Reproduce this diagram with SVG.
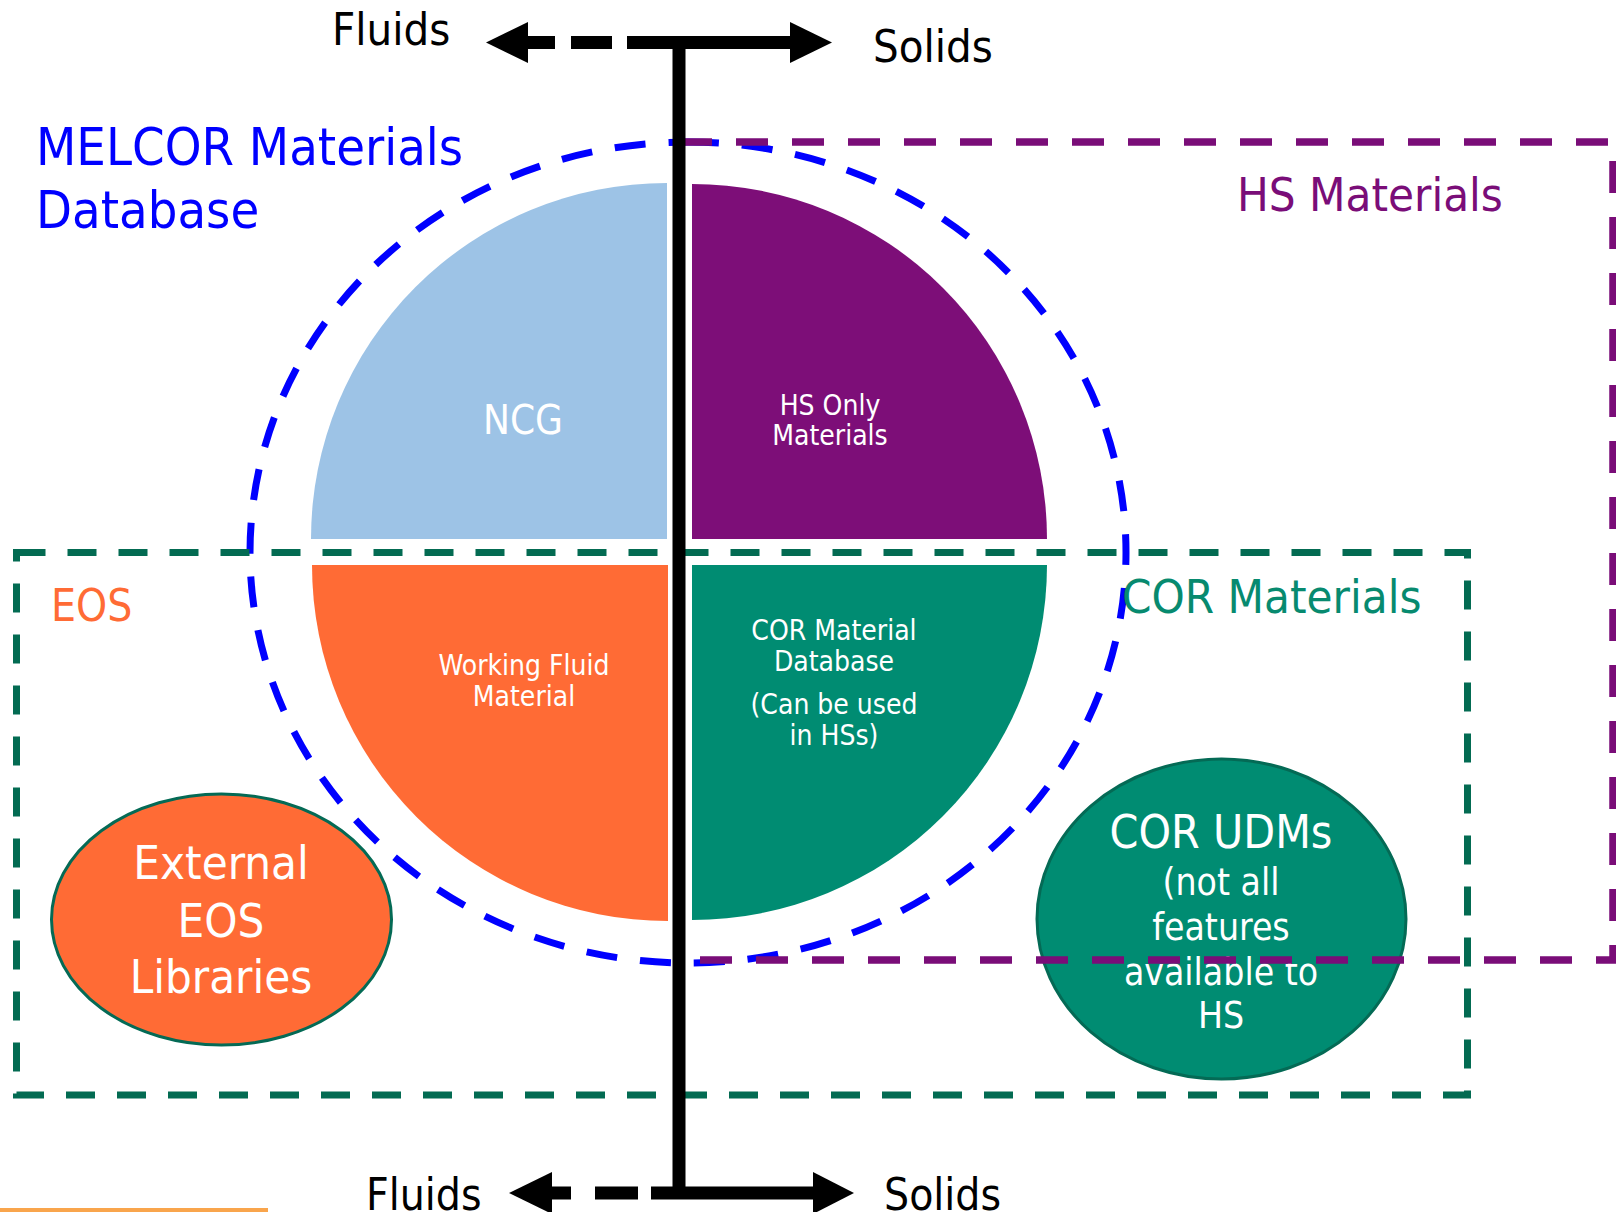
<svg xmlns="http://www.w3.org/2000/svg" width="1616" height="1212" viewBox="0 0 1616 1212">
<style>
text { font-family: 'DejaVu Sans Condensed', 'DejaVu Sans', sans-serif; font-stretch: condensed; }
.w { fill: #FFFFFF; text-anchor: middle; }
.blk { fill: #000000; }
.dashBlue { fill: none; stroke: #0000FF; stroke-width: 7; stroke-dasharray: 31 23; }
.dashGreen { fill: none; stroke: #036B52; stroke-width: 7; stroke-dasharray: 29 22; }
.dashPurple { fill: none; stroke: #7A0D78; stroke-width: 7.5; stroke-dasharray: 32 24; }
.ellStroke { stroke: #046A55; stroke-width: 3; }
</style>
<rect width="1616" height="1212" fill="#FFFFFF"/>

<!-- quadrants -->
<g id="ncg">
  <path d="M667,539 L311,539 A356,356 0 0 1 667,183 Z" fill="#9DC3E6"/>
  <text class="w" x="523" y="434" font-size="40">NCG</text>
</g>
<g id="hs-only">
  <path d="M692,539 L692,184 A355,355 0 0 1 1047,539 Z" fill="#7D0E78"/>
  <text class="w" x="830" y="415" font-size="28">HS Only</text>
  <text class="w" x="830" y="445" font-size="28">Materials</text>
</g>
<g id="working-fluid">
  <path d="M668,565 L312,565 A356,356 0 0 0 668,921 Z" fill="#FF6B35"/>
  <text class="w" x="524" y="675" font-size="28">Working Fluid</text>
  <text class="w" x="524" y="706" font-size="28">Material</text>
</g>
<g id="cor-db">
  <path d="M692,565 L1047,565 A355,355 0 0 1 692,920 Z" fill="#008C72"/>
  <text class="w" x="834" y="640" font-size="28">COR Material</text>
  <text class="w" x="834" y="671" font-size="28">Database</text>
  <text class="w" x="834" y="714" font-size="28">(Can be used</text>
  <text class="w" x="834" y="745" font-size="28">in HSs)</text>
</g>

<!-- MELCOR database boundary -->
<g id="melcor-db">
  <path class="dashBlue" d="M688,142 A438,410.5 0 0 1 688,963 A438,410.5 0 0 1 688,142 Z"/>
  <text x="36" y="165" font-size="52" fill="#0000FF">MELCOR Materials</text>
  <text x="36" y="228" font-size="52" fill="#0000FF">Database</text>
</g>

<!-- EOS / COR boundary -->
<g id="eos-cor">
  <rect class="dashGreen" x="16.5" y="552.5" width="1451" height="542.5"/>
  <text x="51" y="621" font-size="44" fill="#FF6B35">EOS</text>
  <text x="1122" y="613" font-size="47" fill="#078A6F">COR Materials</text>
</g>

<g id="external-eos">
  <ellipse class="ellStroke" cx="221.5" cy="919.5" rx="170" ry="125.5" fill="#FF6B35"/>
  <text class="w" x="221" y="879" font-size="47">External</text>
  <text class="w" x="221" y="937" font-size="47">EOS</text>
  <text class="w" x="221" y="993" font-size="47">Libraries</text>
</g>

<g id="cor-udms">
  <ellipse class="ellStroke" cx="1221.5" cy="919" rx="184.5" ry="160" fill="#008C72"/>
  <text class="w" x="1221" y="848" font-size="46">COR UDMs</text>
  <text class="w" x="1221" y="895" font-size="37">(not all</text>
  <text class="w" x="1221" y="940" font-size="37">features</text>
  <text class="w" x="1221" y="985" font-size="37">available to</text>
  <text class="w" x="1221" y="1028" font-size="37">HS</text>
</g>

<!-- HS boundary -->
<g id="hs-materials">
  <rect class="dashPurple" x="680" y="142" width="933" height="818"/>
  <text x="1237" y="211" font-size="47" fill="#7A0D78">HS Materials</text>
</g>

<!-- axis connectors -->
<g id="connectors">
  <rect class="blk" x="672.5" y="36" width="13" height="1163"/>
  <!-- top -->
  <rect class="blk" x="679" y="36" width="111" height="13"/>
  <polygon class="blk" points="790,22 832,42.5 790,63"/>
  <rect class="blk" x="627" y="36" width="52" height="13"/>
  <rect class="blk" x="571" y="36" width="41" height="13"/>
  <rect class="blk" x="528" y="36" width="27" height="13"/>
  <polygon class="blk" points="528,22 486,42.5 528,63"/>
  <!-- bottom -->
  <rect class="blk" x="679" y="1186.5" width="134" height="13"/>
  <polygon class="blk" points="813,1172 854,1193 813,1214"/>
  <rect class="blk" x="651" y="1186.5" width="28" height="13"/>
  <rect class="blk" x="595" y="1186.5" width="43" height="13"/>
  <rect class="blk" x="552" y="1186.5" width="19" height="13"/>
  <polygon class="blk" points="552,1172 509,1193 552,1214"/>
</g>

<g id="axis-labels">
  <text x="332" y="45" font-size="45" fill="#000000">Fluids</text>
  <text x="873" y="62" font-size="45" fill="#000000">Solids</text>
  <text x="366" y="1210" font-size="44" fill="#000000">Fluids</text>
  <text x="884" y="1210" font-size="44" fill="#000000">Solids</text>
</g>

<rect x="0" y="1208" width="268" height="4" fill="#F9A54C"/>
</svg>
